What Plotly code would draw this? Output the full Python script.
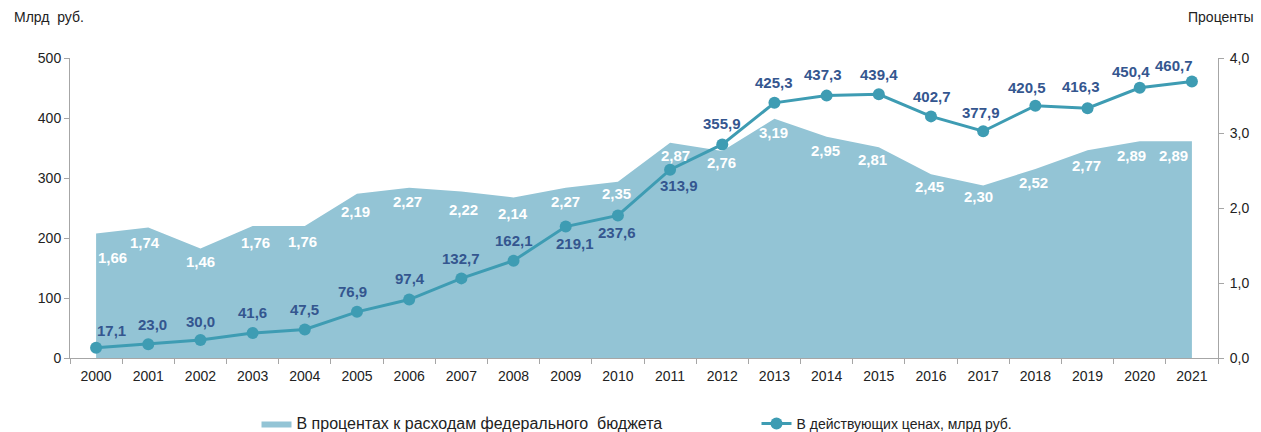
import plotly.graph_objects as go

years = [str(y) for y in range(2000, 2022)]
share_pct = [1.66, 1.74, 1.46, 1.76, 1.76, 2.19, 2.27, 2.22, 2.14, 2.27, 2.35,
             2.87, 2.76, 3.19, 2.95, 2.81, 2.45, 2.30, 2.52, 2.77, 2.89, 2.89]
current_bn = [17.1, 23.0, 30.0, 41.6, 47.5, 76.9, 97.4, 132.7, 162.1, 219.1, 237.6,
              313.9, 355.9, 425.3, 437.3, 439.4, 402.7, 377.9, 420.5, 416.3, 450.4, 460.7]

name_area = "В процентах к расходам федерального  бюджета"
name_line = "В действующих ценах, млрд руб."

AREA = "#93c4d5"
LINE = "#3e9cb3"
LBL = "#34568f"
FONT = "Liberation Sans, Arial, sans-serif"

# label offsets (pixels) to mimic the original placement
area_dx = [16, -3, 0, 3, -2, -2, -2, 2, -1, 0, -1, 5, -1, -1, -1, -6, -2, -5, -2, -1, -8, -18]
area_dy = [-24, -15, -13, -16, -15, -18, -14, -18, -16, -14, -12, -13, -11, -14, -14, -12, -12, -11, -13, -15, -14, -14]
line_dx = [15, 4, 0, 0, 0, -5, 1, 0, 0, 9, -1, 9, 0, 0, -4, 0, 1, -2, -8, -7, -9, -18]
line_dy = [17, 20, 19, 21, 20, 20, 21, 20, 20, -17, -17, -16, 21, 20, 21, 20, 20, 19, 18, 22, 16, 16]

fig = go.Figure()
fig.add_trace(go.Scatter(
    x=years, y=share_pct, name=f'<span style="font-size:16px">{name_area}</span>',
    mode="lines", fill="tozeroy",
    fillcolor=AREA, line=dict(width=0, color=AREA), yaxis="y", hoverinfo="skip"))
fig.add_trace(go.Scatter(
    x=years, y=current_bn, name=f'<span style="font-size:14px">{name_line}</span>',
    mode="lines+markers",
    line=dict(color=LINE, width=3), marker=dict(size=12, color=LINE), yaxis="y2"))

def fmt(v, d):
    return f"{v:.{d}f}".replace(".", ",")

L, R, T, B = 70, 43, 58, 74
W, H = 1261, 432
pw, ph = W - L - R, H - T - B
def px2paper(xp, yp):
    return (xp - L) / pw, (H - B - yp) / ph

ann = []
for i, yr in enumerate(years):
    ann.append(dict(x=i, y=share_pct[i], xref="x", yref="y", text=fmt(share_pct[i], 2),
                    showarrow=False, xshift=area_dx[i], yshift=area_dy[i],
                    font=dict(family=FONT, size=15, color="white", weight="bold")))
    ann.append(dict(x=i, y=current_bn[i], xref="x", yref="y2", text=fmt(current_bn[i], 1),
                    showarrow=False, xshift=line_dx[i], yshift=line_dy[i],
                    font=dict(family=FONT, size=15, color=LBL, weight="bold")))
ax, ay = px2paper(12, 17)
bx, by = px2paper(1256, 17)
ann.append(dict(x=ax, y=ay, xref="paper", yref="paper", text="Млрд  руб.", showarrow=False,
                xanchor="left", yanchor="middle", font=dict(family=FONT, size=14, color="#222")))
ann.append(dict(x=bx, y=by, xref="paper", yref="paper", text="Проценты", showarrow=False,
                xanchor="right", yanchor="middle", font=dict(family=FONT, size=14, color="#222")))

axis_col = "#a6a6a6"
fig.update_layout(
    annotations=ann,
    width=W, height=H, margin=dict(l=L, r=R, t=T, b=B, autoexpand=False),
    paper_bgcolor="white", plot_bgcolor="white",
    separators=", ",
    font=dict(family=FONT, size=14, color="#222"),
    xaxis=dict(type="category", tickson="boundaries", ticks="outside", ticklen=5,
               tickcolor=axis_col, showline=True, linecolor=axis_col, linewidth=1,
               showgrid=False, tickfont=dict(size=14, color="#222"), range=[-0.5, 21.5],
               ticklabelstandoff=5),
    yaxis=dict(side="right", range=[0, 4], dtick=1, tickformat=".1f", showgrid=False,
               showline=True, linecolor=axis_col, ticks="outside", ticklen=5, tickcolor=axis_col,
               zeroline=False, tickfont=dict(size=14, color="#222"), ticklabelstandoff=3),
    yaxis2=dict(side="left", overlaying="y", range=[0, 500], dtick=100, showgrid=False,
                showline=True, linecolor=axis_col, ticks="outside", ticklen=5, tickcolor=axis_col,
                zeroline=False, tickfont=dict(size=14, color="#222")),
    legend=dict(orientation="h", x=0.598, xanchor="center", y=(H - B - 424) / ph, yanchor="middle",
                font=dict(family=FONT, size=14, color="#222"),
                entrywidth=455, entrywidthmode="pixels", traceorder="normal"),
    showlegend=True,
)
fig.write_html("out.html", config={"displayModeBar": False},
               post_script="document.body.style.margin='0';document.body.style.overflow='hidden';")
